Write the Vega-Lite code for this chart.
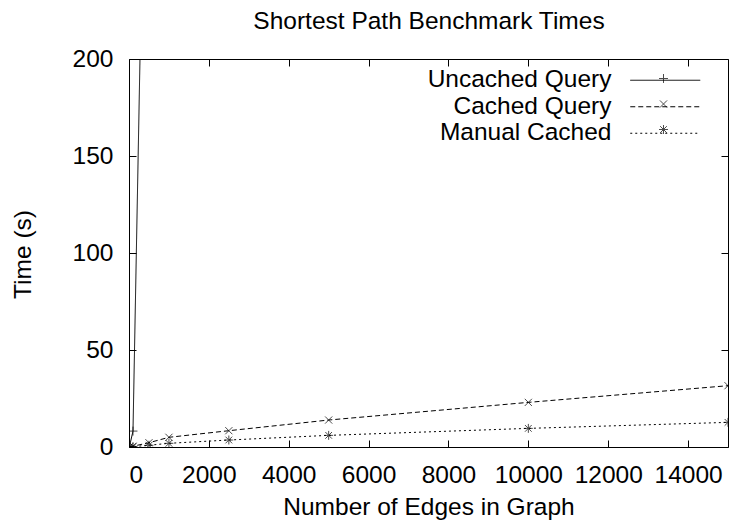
{
  "$schema": "https://vega.github.io/schema/vega-lite/v6.json",
  "width": 599,
  "height": 388,
  "autosize": {"type": "none"},
  "padding": {"left": 129, "top": 59, "right": 2, "bottom": 82},
  "background": "white",
  "config": {
    "view": {"stroke": "#000", "strokeWidth": 1},
    "axis": {
      "domain": false,
      "grid": false,
      "ticks": true,
      "tickColor": "#000",
      "tickWidth": 1,
      "tickSize": -7,
      "labelFont": "Liberation Sans",
      "labelFontSize": 24.5,
      "labelColor": "#000",
      "titleFont": "Liberation Sans",
      "titleFontSize": 24.5,
      "titleFontWeight": "normal",
      "titleColor": "#000"
    }
  },
  "datasets": {
    "bench": [
      {"series": "Uncached Query", "edges": 10, "time": 0.1},
      {"series": "Uncached Query", "edges": 100, "time": 8.2},
      {"series": "Uncached Query", "edges": 500, "time": 447},
      {"series": "Cached Query", "edges": 10, "time": 0.05},
      {"series": "Cached Query", "edges": 100, "time": 0.4},
      {"series": "Cached Query", "edges": 500, "time": 2.2},
      {"series": "Cached Query", "edges": 1000, "time": 5.0},
      {"series": "Cached Query", "edges": 2500, "time": 8.4},
      {"series": "Cached Query", "edges": 5000, "time": 13.9},
      {"series": "Cached Query", "edges": 10000, "time": 23.0},
      {"series": "Cached Query", "edges": 15000, "time": 31.6},
      {"series": "Manual Cached", "edges": 10, "time": 0.03},
      {"series": "Manual Cached", "edges": 100, "time": 0.2},
      {"series": "Manual Cached", "edges": 500, "time": 0.9},
      {"series": "Manual Cached", "edges": 1000, "time": 1.9},
      {"series": "Manual Cached", "edges": 2500, "time": 3.6},
      {"series": "Manual Cached", "edges": 5000, "time": 6.0},
      {"series": "Manual Cached", "edges": 10000, "time": 9.6},
      {"series": "Manual Cached", "edges": 15000, "time": 12.7}
    ]
  },
  "data": {"name": "bench"},
  "layer": [
    {
      "mark": {"type": "line", "clip": true, "color": "#000", "strokeWidth": 1},
      "encoding": {
        "x": {
          "field": "edges", "type": "quantitative",
          "scale": {"domain": [0, 15000], "nice": false},
          "axis": {
            "values": [0, 2000, 4000, 6000, 8000, 10000, 12000, 14000],
            "format": "d",
            "labelPadding": 23,
            "title": "Number of Edges in Graph",
            "titlePadding": 9
          }
        },
        "y": {
          "field": "time", "type": "quantitative",
          "scale": {"domain": [0, 200], "nice": false},
          "axis": {
            "values": [0, 50, 100, 150, 200],
            "labelPadding": 23,
            "title": "Time (s)",
            "titleX": -106,
            "titleY": 195,
            "titleAngle": -90,
            "titleAlign": "center",
            "titleBaseline": "middle"
          }
        },
        "strokeDash": {
          "field": "series", "type": "nominal",
          "scale": {
            "domain": ["Uncached Query", "Cached Query", "Manual Cached"],
            "range": [[1, 0], [5, 3], [2, 3]]
          },
          "legend": {
            "title": null,
            "orient": "none",
            "legendX": 524,
            "legendY": 9,
            "padding": 0,
            "symbolType": "M-3.5,0L3.5,0",
            "symbolSize": 400,
            "symbolStrokeColor": "#000",
            "symbolFillColor": "transparent",
            "symbolStrokeWidth": 1,
            "rowPadding": 1.5,
            "labelAlign": "right",
            "labelOffset": -66,
            "labelFont": "Liberation Sans",
            "labelFontSize": 24.5,
            "labelColor": "#000",
            "labelLimit": 400
          }
        }
      }
    },
    {
      "mark": {"type": "point", "clip": true, "filled": false, "color": "#000", "strokeWidth": 1, "size": 80},
      "encoding": {
        "x": {"field": "edges", "type": "quantitative", "axis": null},
        "y": {"field": "time", "type": "quantitative", "axis": null},
        "shape": {
          "field": "series", "type": "nominal",
          "scale": {
            "domain": ["Uncached Query", "Cached Query", "Manual Cached", "_"],
            "range": ["M-1,0L1,0M0,-1L0,1", "M-0.8,-0.8L0.8,0.8M-0.8,0.8L0.8,-0.8", "M-1,0L1,0M0,-1L0,1M-0.75,-0.75L0.75,0.75M-0.75,0.75L0.75,-0.75", "M0,0"]
          },
          "legend": {
            "title": null,
            "orient": "none",
            "values": ["Uncached Query", "Cached Query", "Manual Cached"],
            "legendX": 529.5,
            "legendY": 14.5,
            "padding": 0,
            "symbolSize": 80,
            "symbolStrokeColor": "#000",
            "symbolFillColor": "transparent",
            "symbolStrokeWidth": 1,
            "rowPadding": 12.5,
            "labelExpr": "''",
            "labelFontSize": 10
          }
        }
      }
    },
    {
      "mark": {"type": "point", "opacity": 0, "clip": true},
      "encoding": {
        "x": {
          "field": "edges", "type": "quantitative",
          "axis": {
            "orient": "top",
            "values": [0, 2000, 4000, 6000, 8000, 10000, 12000, 14000],
            "labels": false,
            "title": "Shortest Path Benchmark Times",
            "titleX": 299.5,
            "titleY": -31,
            "titleAlign": "center",
            "titleBaseline": "alphabetic"
          }
        },
        "y": {"field": "time", "type": "quantitative", "axis": {"orient": "right", "values": [0, 50, 100, 150, 200], "labels": false, "title": null}}
      }
    }
  ],
  "resolve": {"axis": {"x": "independent", "y": "independent"}}
}
